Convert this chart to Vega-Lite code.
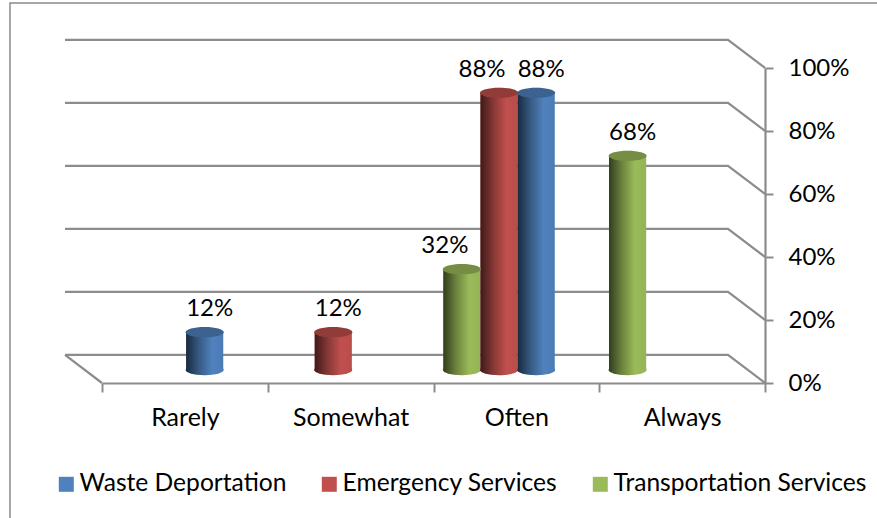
{
"$schema":"https://vega.github.io/schema/vega-lite/v6.json",
"width":663,"height":315,
"autosize":{"type":"none"},
"padding":{"left":102,"top":68,"right":112,"bottom":135},
"background":"white",
"config":{"view":{"stroke":null},"font":"Lato"},
"datasets":{
"bars":[
{"category":"Often","series":"Transportation Services","value":32,"label":"32%"},
{"category":"Always","series":"Transportation Services","value":68,"label":"68%"},
{"category":"Somewhat","series":"Emergency Services","value":12,"label":"12%"},
{"category":"Often","series":"Emergency Services","value":88,"label":"88%"},
{"category":"Rarely","series":"Waste Deportation","value":12,"label":"12%"},
{"category":"Often","series":"Waste Deportation","value":88,"label":"88%"}
],
"grid":[
{"level":"g0","i":1,"xq":-0.0558,"val":8.9},{"level":"g0","i":2,"xq":0.9442,"val":8.9},{"level":"g0","i":3,"xq":1,"val":0},
{"level":"g20","i":1,"xq":-0.0558,"val":28.9},{"level":"g20","i":2,"xq":0.9442,"val":28.9},{"level":"g20","i":3,"xq":1,"val":20},
{"level":"g40","i":1,"xq":-0.0558,"val":48.9},{"level":"g40","i":2,"xq":0.9442,"val":48.9},{"level":"g40","i":3,"xq":1,"val":40},
{"level":"g60","i":1,"xq":-0.0558,"val":68.9},{"level":"g60","i":2,"xq":0.9442,"val":68.9},{"level":"g60","i":3,"xq":1,"val":60},
{"level":"g80","i":1,"xq":-0.0558,"val":88.9},{"level":"g80","i":2,"xq":0.9442,"val":88.9},{"level":"g80","i":3,"xq":1,"val":80},
{"level":"g100","i":1,"xq":-0.0558,"val":108.9},{"level":"g100","i":2,"xq":0.9442,"val":108.9},{"level":"g100","i":3,"xq":1,"val":100},
{"level":"floor","i":1,"xq":-0.0558,"val":8.9},{"level":"floor","i":2,"xq":0,"val":0}
],
"frame":[
{"i":1,"xq":-0.1388,"val":-43},{"i":2,"xq":-0.1388,"val":120.6},{"i":3,"xq":1.17,"val":120.6}
]
},
"layer":[
{"layer":[
{"data":{"name":"frame"},"mark":{"type":"line","stroke":"#8a8a8a","strokeWidth":1.5,"clip":false},
"encoding":{"x":{"field":"xq","type":"quantitative","scale":{"domain":[0,1],"nice":false,"zero":false},"axis":null},
"y":{"field":"val","type":"quantitative","scale":{"domain":[0,100],"nice":false},"axis":{"title":null,"orient":"right","values":[0,20,40,60,80,100],"labelExpr":"datum.value+'%'","labelFontSize":24,"labelFont":"Lato","labelColor":"#000","labelAlign":"left","labelPadding":15,"tickSize":8,"tickColor":"#8c8c8c","tickWidth":2,"domainColor":"#8c8c8c","domainWidth":2.2,"grid":false}},"order":{"field":"i"}}},
{"data":{"name":"grid"},"mark":{"type":"line","stroke":"#8c8c8c","strokeWidth":2.2,"clip":false},
"encoding":{"x":{"field":"xq","type":"quantitative","scale":{"domain":[0,1],"nice":false,"zero":false},"axis":null},
"y":{"field":"val","type":"quantitative"},"detail":{"field":"level"},"order":{"field":"i"}}}
]},
{"data":{"name":"bars"},
"encoding":{
"x":{"field":"category","type":"nominal","sort":["Rarely","Somewhat","Often","Always"],
"scale":{"domain":["Rarely","Somewhat","Often","Always"],"paddingInner":0,"paddingOuter":0},
"axis":{"title":null,"orient":"bottom","labelAngle":0,"tickBand":"extent","labelFontSize":25,"labelFont":"Lato","labelColor":"#000","labelPadding":13,"tickSize":9,"tickColor":"#8c8c8c","tickWidth":2,"domainColor":"#8c8c8c","domainWidth":2.2,"grid":false,"labelFlush":false}},
"xOffset":{"field":"series","type":"nominal","scale":{"domain":["Transportation Services","Emergency Services","Waste Deportation"],"paddingInner":0,"paddingOuter":0.73,"align":0.18}},
"y":{"field":"value","type":"quantitative"}
},
"layer":[
{"mark":{"type":"point","filled":true,"opacity":1,"size":1444,"shape":"M-1,0A1,0.27,0,1,1,1,0A1,0.27,0,1,1,-1,0Z","yOffset":-13,"clip":false},
"encoding":{"y":{"datum":0,"type":"quantitative"},"color":{"field":"series","type":"nominal","scale":{"domain":["Waste Deportation","Emergency Services","Transportation Services"],"range":["#4F81BD","#C0504D","#9BBB59"]},
"legend":{"title":null,"orient":"none","legendX":-48,"legendY":404,"direction":"horizontal","columns":3,"symbolType":"square","symbolSize":225,"symbolOpacity":1,"symbolStrokeWidth":0,"labelFontSize":24.6,"labelFont":"Lato","labelColor":"#000","labelLimit":300,"labelOffset":1,"columnPadding":30,"gridAlign":"none"}}}},
{"mark":{"type":"point","filled":true,"opacity":1,"size":1444,"shape":"M-1,0A1,0.27,0,1,1,1,0A1,0.27,0,1,1,-1,0Z","yOffset":-13,"clip":false,"fill":{"x1":0,"x2":1,"y1":0,"y2":0,"gradient":"linear","stops":[{"offset":0,"color":"rgba(0,0,0,0.68)"},{"offset":0.35,"color":"rgba(0,0,0,0.3)"},{"offset":0.7,"color":"rgba(0,0,0,0)"},{"offset":1,"color":"rgba(0,0,0,0.04)"}]}},
"encoding":{"y":{"datum":0,"type":"quantitative"}}},
{"mark":{"type":"bar","yOffset":-13,"y2Offset":-13,"clip":false},
"encoding":{"y2":{"datum":0},"color":{"field":"series","type":"nominal"}}},
{"mark":{"type":"bar","yOffset":-13,"y2Offset":-13,"clip":false,"fill":{"x1":0,"x2":1,"y1":0,"y2":0,"gradient":"linear","stops":[{"offset":0,"color":"rgba(0,0,0,0.68)"},{"offset":0.35,"color":"rgba(0,0,0,0.3)"},{"offset":0.7,"color":"rgba(0,0,0,0)"},{"offset":1,"color":"rgba(0,0,0,0.04)"}]}},
"encoding":{"y2":{"datum":0}}},
{"mark":{"type":"point","filled":true,"opacity":1,"size":1444,"shape":"M-1,0A1,0.27,0,1,1,1,0A1,0.27,0,1,1,-1,0Z","yOffset":-13,"clip":false},
"encoding":{"color":{"field":"series","type":"nominal"}}},
{"mark":{"type":"point","filled":true,"opacity":1,"size":1444,"shape":"M-1,0A1,0.27,0,1,1,1,0A1,0.27,0,1,1,-1,0Z","yOffset":-13,"clip":false,"fill":"rgba(0,0,0,0.24)"}},
{"transform":[{"filter":"datum.category!=='Often' || datum.series==='Waste Deportation'"}],
"mark":{"type":"text","fontSize":24,"font":"Lato","color":"#000","baseline":"middle","yOffset":-36,"dx":5,"clip":false},
"encoding":{"text":{"field":"label","type":"nominal"}}},
{"transform":[{"filter":"datum.category==='Often' && datum.series!=='Waste Deportation'"}],
"mark":{"type":"text","fontSize":24,"font":"Lato","color":"#000","baseline":"middle","yOffset":-36,"dx":-17,"clip":false},
"encoding":{"text":{"field":"label","type":"nominal"}}}
]}
],
"resolve":{"scale":{"x":"independent"}}
}
